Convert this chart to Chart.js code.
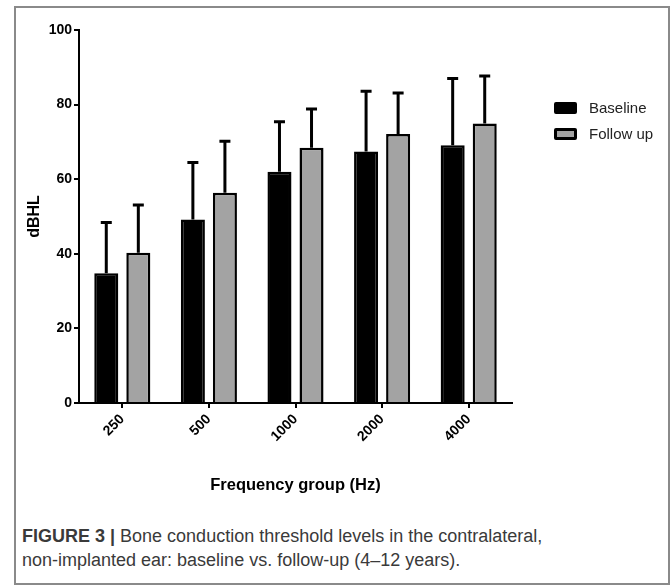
<!DOCTYPE html>
<html>
<head>
<meta charset="utf-8">
<script src="https://cdn.jsdelivr.net/npm/chart.js@4"></script>
<style>
  body { margin: 0; background: #fff; font-family: "Liberation Sans", Arial, Helvetica, sans-serif; }
  #frame { position: absolute; left: 14px; top: 6px; width: 652px; height: 575px; border: 2px solid #8a8a8a; }
  #chart { position: absolute; left: 0; top: 0; }
  .leg { position: absolute; left: 554px; font-size: 15px; color: #222; }
  .leg .sw { position: absolute; left: 0; width: 23px; height: 12px; box-sizing: border-box; border: 3px solid #000; border-radius: 2px; }
  .leg .tx { position: absolute; left: 35px; top: -9px; white-space: nowrap; }
  #caption { position: absolute; left: 22px; top: 524px; font-size: 18px; line-height: 24px; color: #3a3a3a; }
</style>
</head>
<body>
<div id="frame"></div>
<canvas id="chart" width="672" height="520"></canvas>
<div class="leg" style="top:108px"><div class="sw" style="top:-6px;background:#000"></div><div class="tx">Baseline</div></div>
<div class="leg" style="top:134px"><div class="sw" style="top:-6px;background:#a3a3a3"></div><div class="tx">Follow up</div></div>
<div id="caption"><b>FIGURE 3 |</b> Bone conduction threshold levels in the contralateral,<br>non-implanted ear: baseline vs. follow-up (4–12 years).</div>
<script>
// frequency groups (Hz)
var freqs = ["250", "500", "1000", "2000", "4000"];

// mean thresholds (dBHL)
var baseline = [34.8, 49.2, 62.0, 67.4, 69.1];
var followUp = [40.3, 56.4, 68.4, 72.1, 74.9];

// upper error (SD)
var baselineSD = [13.6, 15.3, 13.4, 16.2, 17.9];
var followUpSD = [12.8, 13.8, 10.4, 11.0, 12.8];

var yTicks = [0, 20, 40, 60, 80, 100];

var FONT = "'Liberation Sans', Arial, Helvetica, sans-serif";

// draws the up-only error bars with a cap
var errorBars = {
  id: 'errorBars',
  afterDatasetsDraw: function(chart) {
    var ctx = chart.ctx;
    var yScale = chart.scales.y;
    chart.data.datasets.forEach(function(ds, di) {
      var meta = chart.getDatasetMeta(di);
      meta.data.forEach(function(bar, i) {
        var top = yScale.getPixelForValue(ds.data[i] + ds.sd[i]);
        ctx.save();
        ctx.strokeStyle = '#000';
        ctx.lineWidth = 3;
        ctx.beginPath();
        ctx.moveTo(bar.x, bar.y);
        ctx.lineTo(bar.x, top);
        ctx.moveTo(bar.x - 5.5, top);
        ctx.lineTo(bar.x + 5.5, top);
        ctx.stroke();
        ctx.restore();
      });
    });
  }
};

var ctx = document.getElementById("chart");
var myChart = new Chart(ctx, {
  type: 'bar',
  data: {
    labels: freqs,
    datasets: [{
        label: "Baseline",
        data: baseline,
        sd: baselineSD,
        backgroundColor: '#000',
        borderColor: '#000',
        borderWidth: 2.5
      }, {
        label: "Follow up",
        data: followUp,
        sd: followUpSD,
        backgroundColor: '#a3a3a3',
        borderColor: '#000',
        borderWidth: 2.5
      }
    ]
  },
  plugins: [errorBars],
  options: {
    responsive: false,
    animation: false,
    layout: { padding: { left: 20, top: 30, right: 160, bottom: 22 } },
    datasets: { bar: { categoryPercentage: 0.74, barPercentage: 0.75 } },
    plugins: {
      legend: { display: false },
      tooltip: { enabled: false }
    },
    scales: {
      x: {
        afterFit: function(scale) { scale.height = 95; },
        grid: { offset: false, drawOnChartArea: false, drawTicks: true, tickLength: 5, color: '#000', lineWidth: 2 },
        border: { display: true, color: '#000', width: 2 },
        ticks: {
          minRotation: 45, maxRotation: 45, padding: 3, color: '#000',
          font: { family: FONT, size: 14, weight: 'bold' }
        },
        title: {
          display: true, text: 'Frequency group (Hz)', color: '#000',
          padding: { top: 0, bottom: 3 },
          font: { family: FONT, size: 16.5, weight: 'bold' }
        }
      },
      y: {
        min: 0, max: 100,
        afterFit: function(scale) { scale.width = 59; },
        afterBuildTicks: function(scale) {
          scale.ticks = yTicks.map(function(v) { return { value: v }; });
        },
        grid: { drawOnChartArea: false, drawTicks: true, tickLength: 5, color: '#000', lineWidth: 2 },
        border: { display: true, color: '#000', width: 2 },
        ticks: {
          padding: 2, color: '#000',
          font: { family: FONT, size: 14, weight: 'bold' }
        },
        title: {
          display: true, text: 'dBHL', color: '#000',
          padding: { top: 5, bottom: 0 },
          font: { family: FONT, size: 16, weight: 'bold' }
        }
      }
    }
  }
});
</script>
</body>
</html>
